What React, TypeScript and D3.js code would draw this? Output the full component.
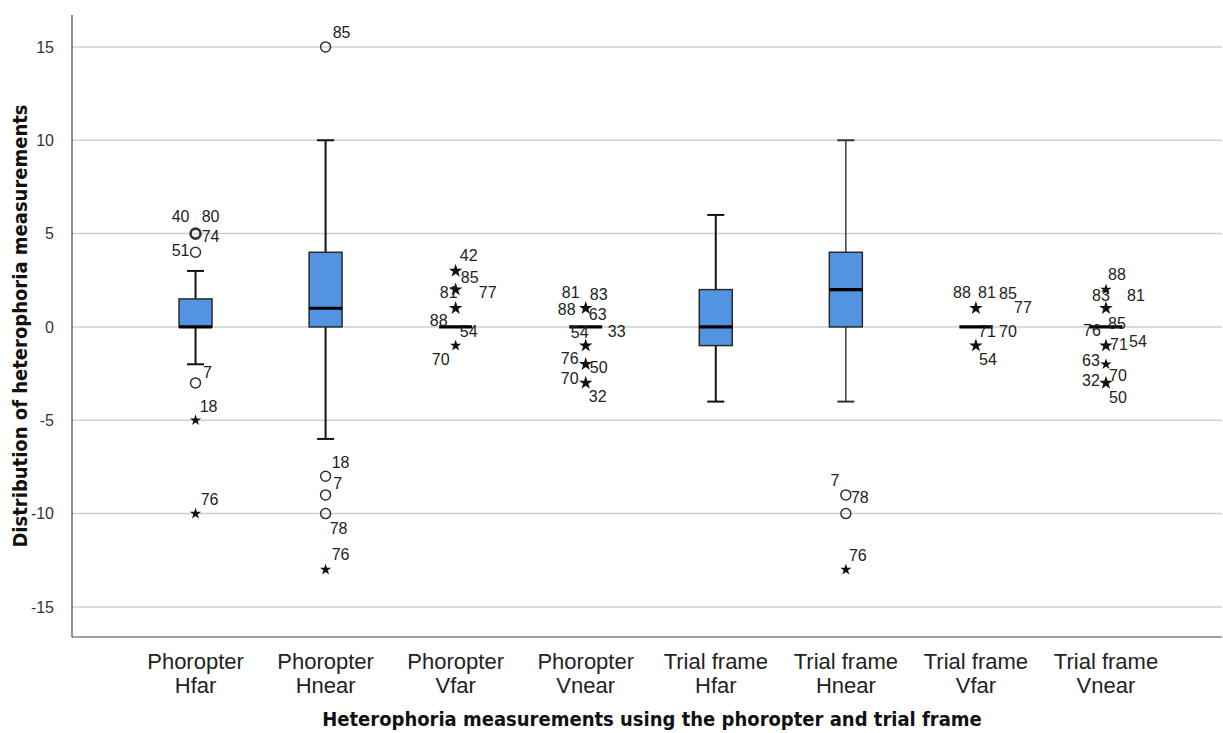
import React from "react";
import * as d3 from "d3";

const categories = [
  ["Phoropter", "Hfar"],
  ["Phoropter", "Hnear"],
  ["Phoropter", "Vfar"],
  ["Phoropter", "Vnear"],
  ["Trial frame", "Hfar"],
  ["Trial frame", "Hnear"],
  ["Trial frame", "Vfar"],
  ["Trial frame", "Vnear"],
];

// five-number summaries: whisker low, Q1, median, Q3, whisker high
const whiskerLow = [-2, -6, 0, 0, -4, -4, 0, 0];
const q1 = [0, 0, 0, 0, -1, 0, 0, 0];
const medians = [0, 1, 0, 0, 0, 2, 0, 0];
const q3 = [1.5, 4, 0, 0, 2, 4, 0, 0];
const whiskerHigh = [3, 10, 0, 0, 6, 10, 0, 0];

const yTicks = [-15, -10, -5, 0, 5, 10, 15];

// outlier cases: group, value, kind (o = outlier, s = extreme), case label
const outlierCases = [
  { g: 0, v: 5, k: "o", id: "40" },
  { g: 0, v: 5, k: "o", id: "80" },
  { g: 0, v: 5, k: "o", id: "74" },
  { g: 0, v: 4, k: "o", id: "51" },
  { g: 0, v: -3, k: "o", id: "7" },
  { g: 0, v: -5, k: "s", id: "18" },
  { g: 0, v: -10, k: "s", id: "76" },
  { g: 1, v: 15, k: "o", id: "85" },
  { g: 1, v: -8, k: "o", id: "18" },
  { g: 1, v: -9, k: "o", id: "7" },
  { g: 1, v: -10, k: "o", id: "78" },
  { g: 1, v: -13, k: "s", id: "76" },
  { g: 2, v: 3, k: "s", id: "42" },
  { g: 2, v: 3, k: "s", id: "85" },
  { g: 2, v: 2, k: "s", id: "81" },
  { g: 2, v: 2, k: "s", id: "77" },
  { g: 2, v: 1, k: "s", id: "88" },
  { g: 2, v: 1, k: "s", id: "54" },
  { g: 2, v: -1, k: "s", id: "70" },
  { g: 3, v: 1, k: "s", id: "81" },
  { g: 3, v: 1, k: "s", id: "83" },
  { g: 3, v: 1, k: "s", id: "88" },
  { g: 3, v: 1, k: "s", id: "63" },
  { g: 3, v: -1, k: "s", id: "54" },
  { g: 3, v: -1, k: "s", id: "33" },
  { g: 3, v: -2, k: "s", id: "76" },
  { g: 3, v: -2, k: "s", id: "50" },
  { g: 3, v: -3, k: "s", id: "70" },
  { g: 3, v: -3, k: "s", id: "32" },
  { g: 5, v: -9, k: "o", id: "7" },
  { g: 5, v: -9, k: "o", id: "78" },
  { g: 5, v: -10, k: "o", id: "" },
  { g: 5, v: -13, k: "s", id: "76" },
  { g: 6, v: 1, k: "s", id: "88" },
  { g: 6, v: 1, k: "s", id: "81" },
  { g: 6, v: 1, k: "s", id: "85" },
  { g: 6, v: 1, k: "s", id: "77" },
  { g: 6, v: -1, k: "s", id: "71" },
  { g: 6, v: -1, k: "s", id: "70" },
  { g: 6, v: -1, k: "s", id: "54" },
  { g: 7, v: 2, k: "s", id: "88" },
  { g: 7, v: 1, k: "s", id: "83" },
  { g: 7, v: 1, k: "s", id: "81" },
  { g: 7, v: 1, k: "s", id: "85" },
  { g: 7, v: -1, k: "s", id: "76" },
  { g: 7, v: -1, k: "s", id: "71" },
  { g: 7, v: -1, k: "s", id: "54" },
  { g: 7, v: -2, k: "s", id: "63" },
  { g: 7, v: -3, k: "s", id: "70" },
  { g: 7, v: -3, k: "s", id: "32" },
  { g: 7, v: -3, k: "s", id: "50" },
];

// label placement offsets (px) for each case, same order as outlierCases
const labelOffsets = [
  [-15, -17], [15, -17], [15, 3], [-15, -2], [12, -11], [13, -14], [14, -14],
  [16, -15], [15, -14], [12, -12], [13, 15], [15, -15],
  [13, -16], [14, 6], [-7, 3], [32, 3], [-17, 12], [13, 23], [-15, 14],
  [-15, -16], [13, -14], [-19, 1], [12, 6], [-6, -13], [31, -14], [-16, -6], [13, 3], [-16, -5], [12, 13],
  [-11, -15], [14, 2], [0, 0], [12, -14],
  [-14, -16], [11, -16], [32, -15], [47, -1], [11, -14], [32, -14], [12, 14],
  [11, -15], [-5, -13], [30, -13], [11, 15], [-14, -15], [13, -1], [32, -4], [-15, -4], [12, -8], [-15, -3], [12, 14],
];

const W = 1223;
const H = 733;
const plotLeft = 72;
const plotRight = 1222;
const plotTop = 15;
const plotBottom = 637;

export default function App() {
  const x = d3
    .scaleBand<number>()
    .domain(d3.range(categories.length))
    .range([130.5, 1171])
    .padding(0);
  const cx = (i: number) => (x(i) as number) + x.bandwidth() / 2;
  const y = d3.scaleLinear().domain([-16.61, 16.71]).range([plotBottom, plotTop]);

  const boxW = 33;
  const capW = 17;
  const star = d3.symbol().type(d3.symbolStar).size(40)() as string;

  const pointKey = (c: any) => `${c.g}|${c.v}|${c.k}`;
  const counts = d3.rollup(outlierCases, (v) => v.length, pointKey);
  const uniquePoints = Array.from(new Map(outlierCases.map((c) => [pointKey(c), c])).values());

  const labelFont = "Liberation Sans, Arial, sans-serif";
  const titleFont = "DejaVu Sans Condensed, DejaVu Sans, sans-serif";

  return (
    <div style={{ position: "fixed", left: 0, top: 0 }}>
      <svg width={W} height={H} style={{ display: "block", background: "#fff" }}>
        <rect x={0} y={0} width={W} height={H} fill="#ffffff" />
        {yTicks.map((t) => (
          <line key={t} x1={plotLeft} x2={plotRight} y1={y(t)} y2={y(t)} stroke="#cfcfcf" strokeWidth={1.5} />
        ))}
        <line x1={plotLeft} x2={plotLeft} y1={plotTop} y2={plotBottom} stroke="#444" strokeWidth={1.2} />
        <line x1={plotLeft} x2={plotRight} y1={plotBottom} y2={plotBottom} stroke="#444" strokeWidth={1.2} />
        {yTicks.map((t) => (
          <text key={t} x={54} y={y(t)} dy="0.35em" textAnchor="end" fontFamily={labelFont} fontSize={16} fill="#333">
            {t}
          </text>
        ))}
        {categories.map((c, i) => (
          <text key={i} textAnchor="middle" fontFamily={labelFont} fontSize={22} fill="#222">
            <tspan x={cx(i)} y={669}>{c[0]}</tspan>
            <tspan x={cx(i)} y={693}>{c[1]}</tspan>
          </text>
        ))}
        <text x={652} y={726} textAnchor="middle" fontFamily={titleFont} fontWeight="bold" fontSize={20} fill="#111">
          Heterophoria measurements using the phoropter and trial frame
        </text>
        <text transform={`translate(27,326) rotate(-90)`} textAnchor="middle" fontFamily={titleFont} fontWeight="bold" fontSize={20} fill="#111">
          Distribution of heterophoria measurements
        </text>

        {categories.map((_, i) => {
          const c = cx(i);
          const hasBox = q3[i] > q1[i];
          const wColor = i === 5 ? "#333" : "#111";
          const wWidth = i === 5 ? 1.4 : 2;
          return (
            <g key={i}>
              {whiskerHigh[i] > q3[i] && (
                <>
                  <line x1={c} x2={c} y1={y(q3[i])} y2={y(whiskerHigh[i])} stroke={wColor} strokeWidth={wWidth} />
                  <line x1={c - capW / 2} x2={c + capW / 2} y1={y(whiskerHigh[i])} y2={y(whiskerHigh[i])} stroke={wColor} strokeWidth={2} />
                </>
              )}
              {whiskerLow[i] < q1[i] && (
                <>
                  <line x1={c} x2={c} y1={y(q1[i])} y2={y(whiskerLow[i])} stroke={wColor} strokeWidth={wWidth} />
                  <line x1={c - capW / 2} x2={c + capW / 2} y1={y(whiskerLow[i])} y2={y(whiskerLow[i])} stroke={wColor} strokeWidth={2} />
                </>
              )}
              {hasBox && (
                <rect
                  x={c - boxW / 2}
                  y={y(q3[i])}
                  width={boxW}
                  height={y(q1[i]) - y(q3[i])}
                  fill="#5294e2"
                  stroke="#2a2a2a"
                  strokeWidth={1.5}
                />
              )}
              <line x1={c - boxW / 2} x2={c + boxW / 2} y1={y(medians[i])} y2={y(medians[i])} stroke="#000" strokeWidth={3.2} />
            </g>
          );
        })}

        {uniquePoints.map((p, i) => {
          const n = counts.get(pointKey(p)) || 1;
          const px = cx(p.g);
          const py = y(p.v);
          if (p.k === "o") {
            return <circle key={i} cx={px} cy={py} r={5} fill="none" stroke="#333" strokeWidth={n > 2 ? 2.6 : 1.5} />;
          }
          return (
            <path key={i} d={star} transform={`translate(${px},${py}) scale(${n > 1 ? 1.2 : 1})`} fill="#111" />
          );
        })}

        {outlierCases.map((c, i) =>
          c.id ? (
            <text
              key={i}
              x={cx(c.g) + labelOffsets[i][0]}
              y={y(c.v) + labelOffsets[i][1]}
              dy="0.35em"
              textAnchor="middle"
              fontFamily={labelFont}
              fontSize={16}
              fill="#222"
            >
              {c.id}
            </text>
          ) : null
        )}
      </svg>
    </div>
  );
}
